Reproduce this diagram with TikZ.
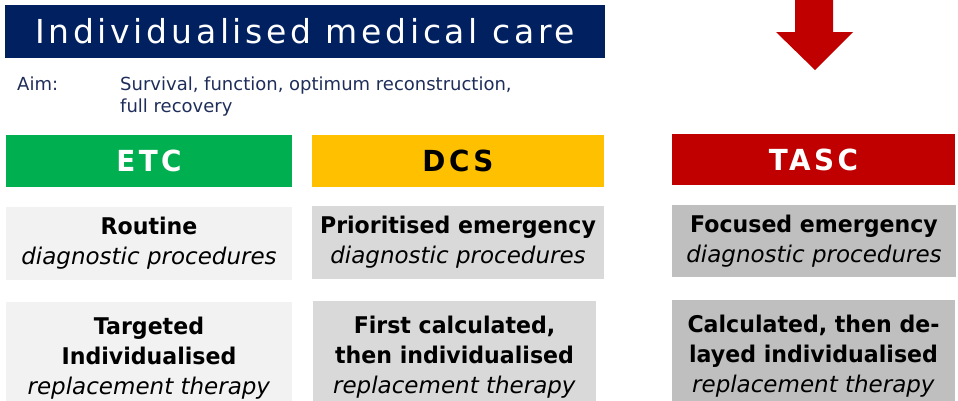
\documentclass[tikz,border=0pt]{standalone}
\usepackage{fontspec}
\setmainfont{DejaVu Sans}[BoldFeatures={FakeStretch=0.96}]
\newfontfamily\bannerfont{DejaVu Sans}[LetterSpace=11.2]
\newfontfamily\hdrfont{DejaVu Sans}[LetterSpace=12,BoldFeatures={FakeStretch=0.96}]
\definecolor{navy}{HTML}{002060}
\definecolor{aimblue}{HTML}{1F2D5A}
\definecolor{etcgreen}{HTML}{00B050}
\definecolor{dcsgold}{HTML}{FFC000}
\definecolor{tascred}{HTML}{C00000}
\definecolor{lightbox}{HTML}{F2F2F2}
\definecolor{midbox}{HTML}{D9D9D9}
\definecolor{darkbox}{HTML}{BFBFBF}
\tikzset{
  panel/.style={rectangle, inner sep=0pt, outer sep=0pt, anchor=north west, align=center},
  hdr/.style={panel, font=\hdrfont\bfseries\fontsize{29}{34}\selectfont},
  cell/.style={panel, font=\fontsize{23}{30}\selectfont, text=black},
}
\begin{document}
\begin{tikzpicture}[x=1pt,y=-1pt]
\useasboundingbox (0,0) rectangle (958,400);
\clip (0,0) rectangle (958,400);
% banner
\node[panel, fill=navy, text=white, minimum width=600pt, minimum height=53pt,
      font=\bannerfont\fontsize{33}{38}\selectfont] (banner) at (5,5) {Individualised medical care};
% aim
\node[anchor=north west, inner sep=0pt, text=aimblue, font=\fontsize{18}{22}\selectfont] (aimlbl) at (17,76.3) {Aim:};
\node[anchor=north west, inner sep=0pt, align=left, text=aimblue, font=\fontsize{18}{22}\selectfont] (aimtxt) at (120,76.3)
  {Survival, function, optimum reconstruction,\\full recovery};
% arrow
\fill[tascred] (795,-5) -- (833,-5) -- (833,32) -- (853,32) -- (815,70) -- (776,32) -- (795,32) -- cycle;
% headers
\node[hdr, fill=etcgreen, text=white, minimum width=286pt, minimum height=52pt] (etc) at (6,135) {ETC};
\node[hdr, fill=dcsgold, text=black, minimum width=292pt, minimum height=52pt] (dcs) at (312,135) {DCS};
\node[hdr, fill=tascred, text=white, minimum width=283pt, minimum height=51pt] (tasc) at (672,134) {TASC};
% row 2
\node[cell, fill=lightbox, minimum width=286pt, minimum height=73pt] (etcdiag) at (6,207)
  {\textbf{Routine}\\\textit{diagnostic procedures}};
\node[cell, fill=midbox, minimum width=292pt, minimum height=73pt] (dcsdiag) at (312,206)
  {\textbf{Prioritised emergency}\\\textit{diagnostic procedures}};
\node[cell, fill=darkbox, minimum width=284pt, minimum height=72pt] (tascdiag) at (672,205)
  {\textbf{Focused emergency}\\\textit{diagnostic procedures}};
% row 3
\node[cell, fill=lightbox, minimum width=286pt, minimum height=112pt] (etcther) at (6,302)
  {\textbf{Targeted}\\\textbf{Individualised}\\\textit{replacement therapy}};
\node[cell, fill=midbox, minimum width=283pt, minimum height=112pt] (dcsther) at (313,301)
  {\textbf{First calculated,}\\\textbf{then individualised}\\\textit{replacement therapy}};
\node[cell, fill=darkbox, minimum width=283pt, minimum height=112pt] (tascther) at (672,300)
  {\textbf{Calculated, then de-}\\\textbf{layed individualised}\\\textit{replacement therapy}};
\end{tikzpicture}
\end{document}
